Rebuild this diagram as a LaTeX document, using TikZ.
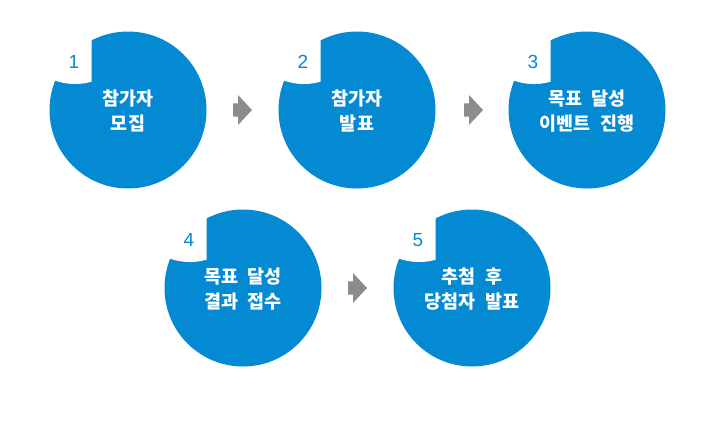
\documentclass[tikz,border=0pt]{standalone}
\usepackage{fontspec}
\newfontfamily\kr{Noto Sans CJK KR}[WordSpace=2.2]
\newfontfamily\digitfont{Liberation Sans}
\usetikzlibrary{calc}
\definecolor{stepblue}{RGB}{4,137,211}
\definecolor{arrowgray}{RGB}{140,140,140}

\begin{document}
\begin{tikzpicture}[x=1pt,y=-1pt,
  stepdisc/.style={circle,fill=stepblue,minimum size=157pt,inner sep=0pt},
  steptext/.style={text=white,align=center,inner sep=0pt,
    font=\kr\bfseries\fontsize{18.5}{25}\selectfont},
  stepnum/.style={text=stepblue,inner sep=0pt,
    font=\digitfont\fontsize{19}{19}\selectfont},
  nextarrow/.style={fill=arrowgray}]
\useasboundingbox (0,0) rectangle (715,440);
% 다섯 단계 원: 번호 / 중심 x / 중심 y / 문구
\foreach \n/\x/\y/\txt in {1/128/110/{참가자\\모집},
    2/357/110/{참가자\\발표},
    3/587/110/{목표 달성\\이벤트 진행},
    4/243/288/{목표 달성\\결과 접수},
    5/472/288/{추첨 후\\당첨자 발표}}{
  \node[stepdisc] (c\n) at (\x,\y) {};
  % 왼쪽 위를 흰색으로 따냄
  \fill[white] ($(c\n)+(-36.5,-95)$) -- ($(c\n)+(-36.5,-28.3)$)
    arc[start angle=74,end angle=130,radius=60] -- ($(c\n)+(-95,-95)$) -- cycle;
  \node[stepnum] (n\n) at ($(c\n)+(-54,-48)$) {\n};
  \node[steptext] (t\n) at ($(c\n)+(0,1)$) {\txt};
}
% 단계 사이 화살표
\coordinate (a1) at ($(c1.east)!0.5!(c2.west)$);
\coordinate (a2) at ($(c2.east)!0.5!(c3.west)+(1.5,0)$);
\coordinate (a3) at ($(c4.east)!0.5!(c5.west)$);
\foreach \a in {a1,a2,a3}
  \fill[nextarrow] ($(\a)+(-9.5,-6.7)$) -- ($(\a)+(-4.5,-6.7)$) -- ($(\a)+(-4.5,-15)$)
    -- ($(\a)+(9.5,0)$) -- ($(\a)+(-4.5,15)$) -- ($(\a)+(-4.5,6.7)$)
    -- ($(\a)+(-9.5,6.7)$) -- cycle;
\end{tikzpicture}
\end{document}
